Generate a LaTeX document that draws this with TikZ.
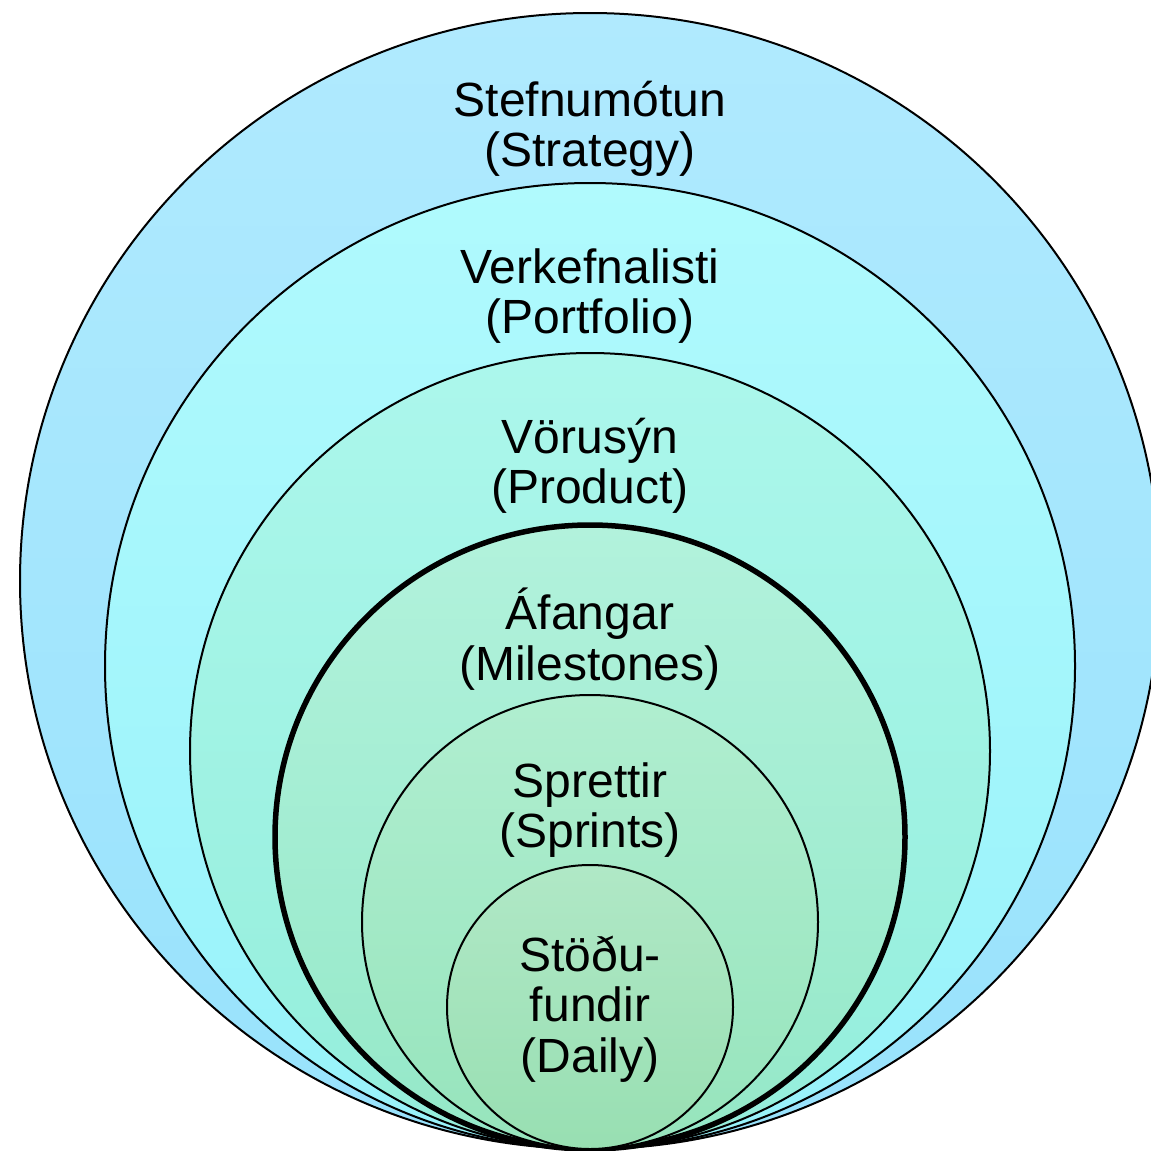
\documentclass[tikz,border=0pt]{standalone}
\usepackage{fontspec}
\setmainfont{Liberation Sans}
\tikzset{
  ring/.style={draw=black, line width=2pt},
  lbl/.style={align=center, font=\fontsize{48}{50.5}\selectfont, inner sep=0pt}
}
\begin{document}
\begin{tikzpicture}[x=1pt,y=-1pt]
\useasboundingbox (0,0) rectangle (1151,1151);
\shade[top color={rgb,255:red,176;green,234;blue,254}, bottom color={rgb,255:red,152;green,226;blue,252}] (590,581) ellipse [x radius=570, y radius=568];
\draw[ring] (590,581) ellipse [x radius=570, y radius=568];
\shade[top color={rgb,255:red,176;green,250;blue,253}, bottom color={rgb,255:red,152;green,242;blue,250}] (590,666) ellipse [x radius=485, y radius=483];
\draw[ring] (590,666) ellipse [x radius=485, y radius=483];
\shade[top color={rgb,255:red,172;green,247;blue,236}, bottom color={rgb,255:red,148;green,238;blue,219}] (590,751) ellipse [x radius=400, y radius=398];
\draw[ring] (590,751) ellipse [x radius=400, y radius=398];
\shade[top color={rgb,255:red,178;green,242;blue,220}, bottom color={rgb,255:red,148;green,232;blue,200}] (590,837) ellipse [x radius=315, y radius=312];
\draw[ring, line width=5.5pt] (590,837) ellipse [x radius=315, y radius=312];
\shade[top color={rgb,255:red,176;green,238;blue,208}, bottom color={rgb,255:red,150;green,228;blue,188}] (590,922) ellipse [x radius=228, y radius=227];
\draw[ring] (590,922) ellipse [x radius=228, y radius=227];
\shade[top color={rgb,255:red,176;green,232;blue,198}, bottom color={rgb,255:red,152;green,223;blue,178}] (590,1007) ellipse [x radius=143, y radius=142];
\draw[ring] (590,1007) ellipse [x radius=143, y radius=142];
\node[lbl] (t1) at (590,129) {Stefnumótun\\(Strategy)};
\node[lbl] (t2) at (590,296) {Verkefnalisti\\(Portfolio)};
\node[lbl] (t3) at (590,466) {Vörusýn\\(Product)};
\node[lbl] (t4) at (590,639) {Áfangar\\(Milestones)};
\node[lbl] (t5) at (590,810) {Sprettir\\(Sprints)};
\node[lbl] (t6) at (590,1009) {Stöðu-\\fundir\\(Daily)};
\end{tikzpicture}
\end{document}
